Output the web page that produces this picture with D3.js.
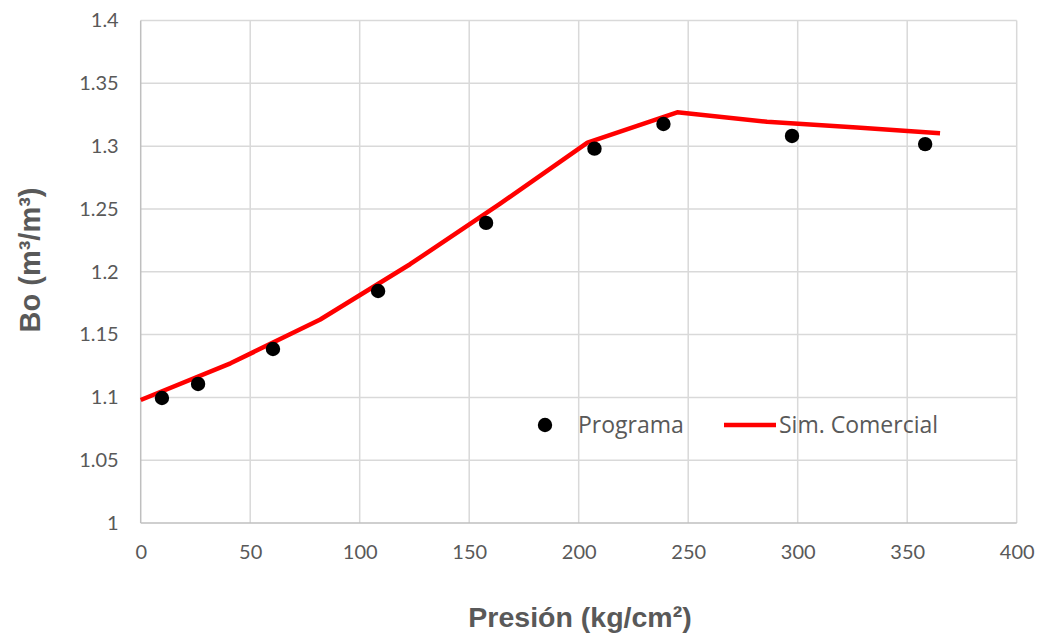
<!DOCTYPE html>
<html><head><meta charset="utf-8">
<script src="https://cdn.jsdelivr.net/npm/d3@7"></script>
<style>body{margin:0;background:#fff}</style>
</head><body><svg id="c" width="1039" height="637"></svg>
<script>
const progP = [9.7, 26.2, 60.4, 108.4, 157.7, 207.2, 238.7, 297.4, 358.2];
const progBo = [1.0995, 1.1107, 1.1385, 1.1847, 1.2389, 1.2980, 1.3176, 1.3081, 1.3016];
const simP = [0, 41, 82, 123, 164, 204, 245, 286, 327, 365];
const simBo = [1.0979, 1.1271, 1.1620, 1.2060, 1.2540, 1.3028, 1.3269, 1.3194, 1.3148, 1.3103];
const xTicks = [0, 50, 100, 150, 200, 250, 300, 350, 400];
const yTicks = [1, 1.05, 1.1, 1.15, 1.2, 1.25, 1.3, 1.35, 1.4];
const seriesNames = ["Programa", "Sim. Comercial"];

const svg = d3.select("#c");
const L = 140.7, R = 1016.7, T = 20.5, B = 523;
const x = d3.scaleLinear().domain([0, 400]).range([L, R]);
const y = d3.scaleLinear().domain([1, 1.4]).range([B, T]);

// gridlines
const g = svg.append("g");
g.selectAll(".vx").data(xTicks.slice(1)).join("line")
  .attr("x1", d => x(d)).attr("x2", d => x(d)).attr("y1", T).attr("y2", B)
  .attr("stroke", "#d9d9d9").attr("stroke-width", 1.5);
g.selectAll(".hy").data(yTicks.slice(1)).join("line")
  .attr("x1", L).attr("x2", R).attr("y1", d => y(d)).attr("y2", d => y(d))
  .attr("stroke", "#d9d9d9").attr("stroke-width", 1.5);
// axes lines
svg.append("line").attr("x1", L).attr("x2", L).attr("y1", T).attr("y2", B).attr("stroke", "#bfbfbf").attr("stroke-width", 1.5);
svg.append("line").attr("x1", L).attr("x2", R).attr("y1", B).attr("y2", B).attr("stroke", "#bfbfbf").attr("stroke-width", 1.5);

// tick labels
const xa = d3.axisBottom(x).tickValues(xTicks).tickSize(0).tickPadding(22).tickFormat(d3.format("d"));
const xg = svg.append("g").attr("transform", `translate(0,${B})`).call(xa);
xg.select(".domain").remove();
xg.selectAll("text").attr("font-family", "Lato").attr("font-size", 20).attr("fill", "#595959");
const ya = d3.axisLeft(y).tickValues(yTicks).tickSize(0).tickPadding(22).tickFormat(d => String(+d.toFixed(2)));
const yg = svg.append("g").attr("transform", `translate(${L},0)`).call(ya);
yg.select(".domain").remove();
yg.selectAll("text").attr("font-family", "Lato").attr("font-size", 20).attr("fill", "#595959");

// line
const line = d3.line().x((d, i) => x(simP[i])).y(d => y(d));
svg.append("path").datum(simBo).attr("d", line).attr("fill", "none")
  .attr("stroke", "#ff0000").attr("stroke-width", 4.5).attr("stroke-linejoin", "round");
// points
svg.selectAll(".pt").data(progBo).join("circle")
  .attr("cx", (d, i) => x(progP[i])).attr("cy", d => y(d)).attr("r", 7.2).attr("fill", "#000");

// legend
svg.append("circle").attr("cx", 545).attr("cy", 425).attr("r", 7.2).attr("fill", "#000");
svg.append("text").attr("x", 578).attr("y", 433).text(seriesNames[0])
  .attr("font-family", "Open Sans").attr("font-size", 23).attr("fill", "#595959");
svg.append("line").attr("x1", 724).attr("x2", 776).attr("y1", 425).attr("y2", 425)
  .attr("stroke", "#ff0000").attr("stroke-width", 4.5);
svg.append("text").attr("x", 779).attr("y", 433).text(seriesNames[1])
  .attr("font-family", "Open Sans").attr("font-size", 23).attr("fill", "#595959");

// titles
svg.append("text").attr("x", 580).attr("y", 627).attr("text-anchor", "middle")
  .attr("font-family", "Liberation Sans, Arial").attr("font-weight", "bold").attr("font-size", 28.5)
  .attr("fill", "#595959").text("Presión (kg/cm²)");
svg.append("text").attr("transform", "translate(40,260) rotate(-90)").attr("text-anchor", "middle")
  .attr("font-family", "Liberation Sans, Arial").attr("font-weight", "bold").attr("font-size", 29)
  .attr("fill", "#595959").text("Bo (m³/m³)");
</script></body></html>
